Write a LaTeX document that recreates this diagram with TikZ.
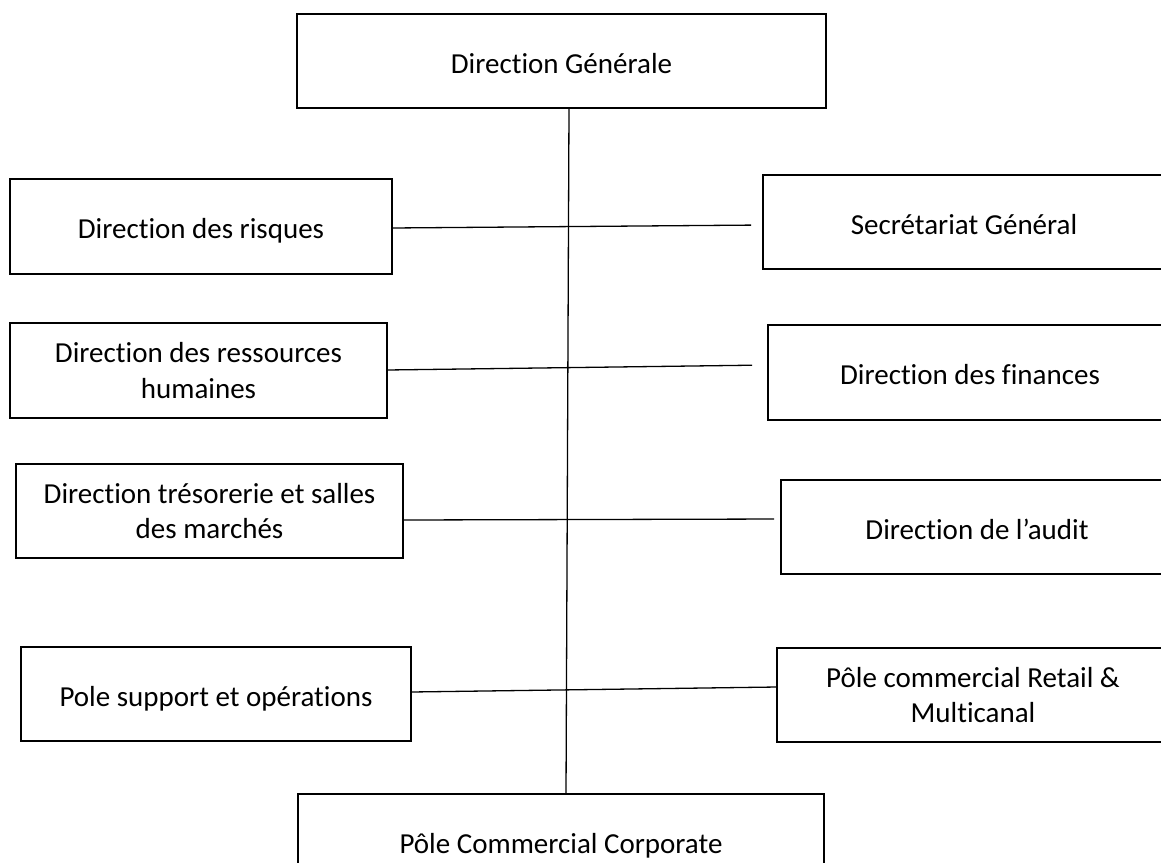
\documentclass[tikz,border=0pt]{standalone}
\usepackage{fontspec}
\setmainfont{Carlito}[RawFeature=-liga]
\begin{document}
\begin{tikzpicture}[x=1pt,y=-1pt,
  orgbox/.style={draw=black, line width=2.9pt, inner sep=0pt, outer sep=0pt,
    align=center, text=black, font=\fontsize{29}{35.4}\selectfont},
  oneline/.style={text height=26pt, text depth=2pt},
  link/.style={draw=black, line width=1.3pt}]
\useasboundingbox (0,0) rectangle (1161,862);
\clip (0,0) rectangle (1161,862);

% top and bottom of the chart
\node[orgbox, oneline, minimum width=529pt, minimum height=94pt] (dg) at (561.5,61) {Direction Générale};
\node[orgbox, oneline, minimum width=526pt, minimum height=94pt] (corp) at (561,841) {Pôle Commercial Corporate};

% left column
\node[orgbox, oneline, minimum width=382pt, minimum height=95pt] (risk) at (201,226.5) {Direction des risques};
\node[orgbox, minimum width=377pt, minimum height=95pt] (rh) at (198.5,370.5) {Direction des ressources\\humaines};
\node[orgbox, minimum width=387pt, minimum height=94pt] (tres) at (209.5,511) {Direction trésorerie et salles\\des marchés};
\node[orgbox, oneline, minimum width=390pt, minimum height=94pt] (sup) at (216,694) {Pole support et opérations};

% right column (boxes run past the right margin)
\node[orgbox, oneline, minimum width=402pt, minimum height=94pt] (sec) at (964,222) {Secrétariat Général};
\node[orgbox, oneline, minimum width=404pt, minimum height=95pt] (fin) at (970,372.5) {Direction des finances};
\node[orgbox, oneline, minimum width=392pt, minimum height=94pt] (aud) at (977,527) {Direction de l’audit};
\node[orgbox, minimum width=392pt, minimum height=94pt] (ret) at (973,695) {Pôle commercial Retail \&\\Multicanal};

% connectors
\draw[link] ([xshift=7.5pt]dg.south) -- ([xshift=5pt]corp.north);
\draw[link, shorten >=12pt] ([yshift=-1.5pt]risk.east) -- ([yshift=-3pt]sec.west);
\draw[link, shorten >=16pt] ([yshift=0.5pt]rh.east) -- ([yshift=7.5pt]fin.west);
\draw[link, shorten >=7pt] ([yshift=-9pt]tres.east) -- ([yshift=8pt]aud.west);
\draw[link] ([yshift=2pt]sup.east) -- ([yshift=8pt]ret.west);
\end{tikzpicture}
\end{document}
